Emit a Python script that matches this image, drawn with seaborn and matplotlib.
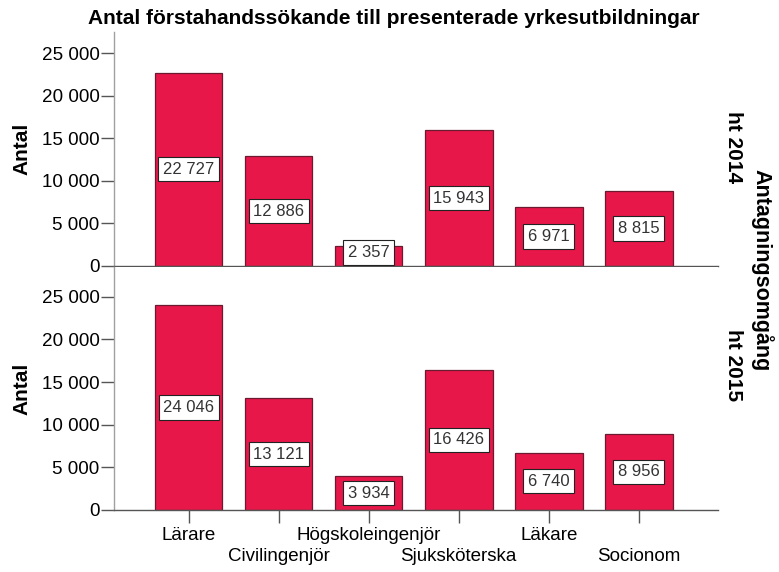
import matplotlib
matplotlib.use('Agg')
import matplotlib.pyplot as plt
import seaborn as sns
import pandas as pd

# Data
categories = ['Lärare', 'Civilingenjör', 'Högskoleingenjör',
              'Sjuksköterska', 'Läkare', 'Socionom']
values_2014 = [22727, 12886, 2357, 15943, 6971, 8815]
values_2015 = [24046, 13121, 3934, 16426, 6740, 8956]
rounds = ['ht 2014', 'ht 2015']
y_ticks = [0, 5000, 10000, 15000, 20000, 25000]

BAR = '#E8174A'
EDGE = '#6b1a30'


def fmt(v):
    return f'{v:,}'.replace(',', ' ')


sns.set_style('white')
plt.rcParams['font.family'] = ['Liberation Sans', 'DejaVu Sans']
plt.rcParams.update({'text.color': 'black', 'axes.labelcolor': 'black',
                     'xtick.labelcolor': 'black', 'ytick.labelcolor': 'black'})

fig = plt.figure(figsize=(7.79, 5.72), dpi=100)
W, H = 779, 572


def px_axes(x0, y0, x1, y1):
    return fig.add_axes([x0 / W, 1 - y1 / H, (x1 - x0) / W, (y1 - y0) / H])


ax_top = px_axes(114, 32, 718, 266)
ax_bot = px_axes(114, 267, 718, 510)

for ax, vals, ytop in [(ax_top, values_2014, 27500), (ax_bot, values_2015, 28500)]:
    df = pd.DataFrame({'yrke': categories, 'antal': vals})
    sns.barplot(data=df, x='yrke', y='antal', color=BAR, saturation=1,
                width=0.75, edgecolor=EDGE, linewidth=0.9, ax=ax)
    ax.set_xlim(-0.83, 5.88)
    ax.set_ylim(0, ytop)
    ax.set_yticks(y_ticks)
    ax.set_yticklabels([fmt(t) for t in y_ticks], fontsize=13.6)
    ax.tick_params(axis='y', length=9.5, width=1, color='#555555', labelcolor='black',
                   pad=1, left=True)
    ax.set_ylabel('Antal', fontsize=15, fontweight='bold', color='black')
    ax.yaxis.set_label_coords(-0.137, 0.5)
    ax.set_xlabel('')
    for s in ['top', 'right']:
        ax.spines[s].set_visible(False)
    ax.spines['left'].set_color('#a0a0a0')
    ax.spines['bottom'].set_color('#555555')
    ax.spines['left'].set_linewidth(1)
    ax.spines['bottom'].set_linewidth(1)
    for i, v in enumerate(vals):
        ax.text(i, max(v / 2, 1600), fmt(v), ha='center', va='center',
                fontsize=12, color='#333333',
                bbox=dict(boxstyle='square,pad=0.28', fc='white', ec='#222222', lw=0.8))

ax_top.tick_params(axis='x', bottom=False, labelbottom=False)

# staggered category labels, every second one on a lower row with a long tick
ax_bot.set_xticks(range(len(categories)))
ax_bot.set_xticklabels(categories, fontsize=13.5)
ax_bot.tick_params(axis='x', bottom=True, length=9.5, width=1, color='#555555',
                   labelcolor='black', pad=3)
for i, t in enumerate(ax_bot.xaxis.get_major_ticks()):
    if i % 2 == 1:
        t.tick1line.set_markersize(25)
        t.set_pad(18)

fig.text(394 / W, 1 - 18 / H, 'Antal förstahandssökande till presenterade yrkesutbildningar',
         ha='center', va='center', fontsize=15, fontweight='bold', color='black')
fig.text(733 / W, 1 - 147 / H, rounds[0], rotation=270, ha='center', va='center',
         fontsize=15, fontweight='bold', color='black')
fig.text(733 / W, 1 - 365 / H, rounds[1], rotation=270, ha='center', va='center',
         fontsize=15, fontweight='bold', color='black')
fig.text(762 / W, 1 - 270 / H, 'Antagningsomgång', rotation=270, ha='center', va='center',
         fontsize=15.5, fontweight='bold', color='black')

fig.savefig('out.png', dpi=100)
